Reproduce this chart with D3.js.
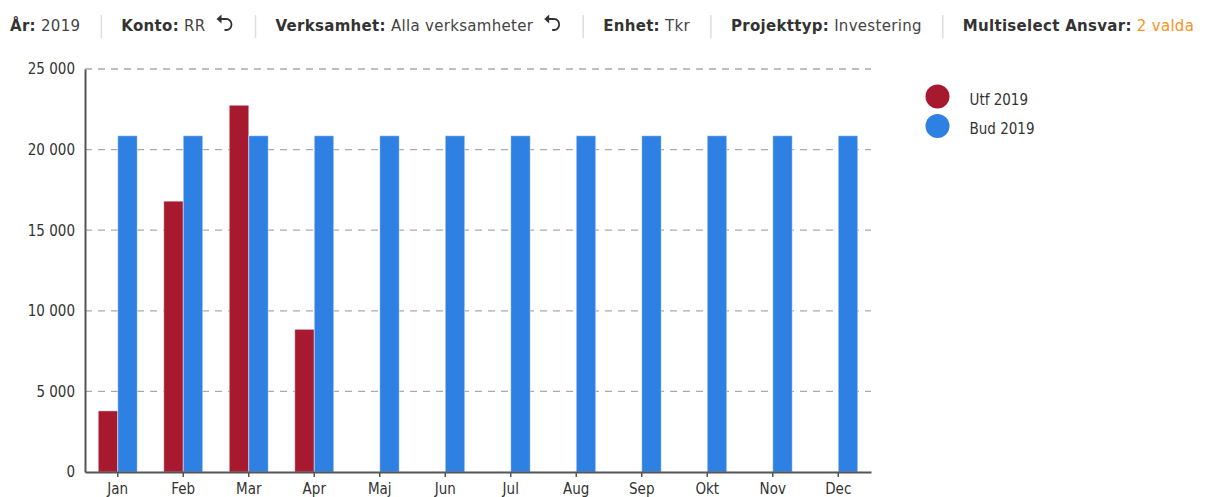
<!DOCTYPE html>
<html><head><meta charset="utf-8">
<script src="https://cdn.jsdelivr.net/npm/d3@7/dist/d3.min.js"></script>
<style>
html,body{margin:0;padding:0;background:#fff;}
svg{display:block;font-family:"DejaVu Sans",sans-serif;}
</style></head>
<body><svg id="c" width="1206" height="497"></svg>
<script>
const months = ["Jan","Feb","Mar","Apr","Maj","Jun","Jul","Aug","Sep","Okt","Nov","Dec"];
const utf2019 = [3790, 16800, 22750, 8850, null, null, null, null, null, null, null, null];
const bud2019 = [20860, 20860, 20860, 20860, 20860, 20860, 20860, 20860, 20860, 20860, 20860, 20860];
const seriesNames = ["Utf 2019", "Bud 2019"];
const seriesColors = ["#A6192E", "#2F80E3"];
const yTicks = [0, 5000, 10000, 15000, 20000, 25000];
const headerItems = [
  {label:"År:", value:"2019", undo:false},
  {label:"Konto:", value:"RR", undo:true},
  {label:"Verksamhet:", value:"Alla verksamheter", undo:true},
  {label:"Enhet:", value:"Tkr", undo:false},
  {label:"Projekttyp:", value:"Investering", undo:false},
  {label:"Multiselect Ansvar:", value:"2 valda", undo:false, orange:true}
];

const svg = d3.select("#c");
const fontFam = "'DejaVu Sans Condensed','DejaVu Sans',sans-serif";
const headFont = "'DejaVu Sans',sans-serif";

// Header
let hx = 10;
const hy = 31;
headerItems.forEach((it, i) => {
  const t = svg.append("text").attr("x", hx).attr("y", hy)
    .attr("font-family", headFont).attr("font-size", 15).attr("fill", "#333")
    .attr("letter-spacing", 0.3);
  t.append("tspan").attr("font-weight", "bold").text(it.label);
  t.append("tspan").attr("fill", it.orange ? "#F7941D" : "#444").text(" " + it.value);
  let w = t.node().getComputedTextLength();
  let end = hx + w;
  if (it.undo) {
    const ux = end + 12;
    svg.append("path")
      .attr("d", `M${ux+2},${hy-12} L${ux+9},${hy-12} A5,5.5 0 0 1 ${ux+9},${hy-1} L${ux+7},${hy-1}`)
      .attr("fill", "none").attr("stroke", "#333").attr("stroke-width", 1.8);
    svg.append("path")
      .attr("d", `M${ux-1},${hy-12} L${ux+4},${hy-16.5} L${ux+4},${hy-7.5} Z`)
      .attr("fill", "#333");
    end = ux + 17;
  }
  if (i < headerItems.length - 1) {
    const sx = end + 21;
    svg.append("line").attr("x1", sx).attr("x2", sx).attr("y1", 15).attr("y2", 38)
      .attr("stroke", "#ddd").attr("stroke-width", 1.5);
    hx = sx + 20;
  }
});

// Chart
const pLeft = 85, pRight = 871, pTop = 69, pBottom = 472;
const x = d3.scaleBand().domain(months).range([pLeft, pRight]).paddingInner(0.405).paddingOuter(0.2025);
const xs = d3.scaleBand().domain(seriesNames).range([0, x.bandwidth()]).padding(0);
const y = d3.scaleLinear().domain([0, 25000]).range([pBottom, pTop]);

// grid
svg.append("g").selectAll("line").data(yTicks.filter(d => d > 0)).join("line")
  .attr("x1", pLeft).attr("x2", pRight).attr("y1", d => y(d)).attr("y2", d => y(d))
  .attr("stroke", "#aaa").attr("stroke-width", 1.3).attr("stroke-dasharray", "7,6");

// bars
const data = [utf2019, bud2019];
data.forEach((vals, si) => {
  svg.append("g").selectAll("rect").data(months.map((m, i) => ({m, v: vals[i]})).filter(d => d.v != null))
    .join("rect")
    .attr("x", d => x(d.m) + xs(seriesNames[si]))
    .attr("width", xs.bandwidth())
    .attr("y", d => y(d.v))
    .attr("height", d => y(0) - y(d.v))
    .attr("fill", seriesColors[si])
    .attr("stroke", "rgba(255,255,255,0.45)").attr("stroke-width", 1);
});

// y axis
const yAxis = svg.append("g").attr("transform", `translate(${pLeft},0)`)
  .call(d3.axisLeft(y).tickValues(yTicks).tickSize(0).tickPadding(10)
    .tickFormat(d => d3.format(",")(d).replace(/,/g, " ")));
yAxis.select(".domain").attr("stroke", "#555").attr("stroke-width", 2);
yAxis.selectAll("text").attr("font-family", fontFam).attr("font-size", 15).attr("fill", "#333");

// x axis
const xAxis = svg.append("g").attr("transform", `translate(0,${pBottom})`)
  .call(d3.axisBottom(x).tickSize(5).tickSizeOuter(0).tickPadding(6));
xAxis.select(".domain").attr("stroke", "#555").attr("stroke-width", 2);
xAxis.selectAll(".tick line").attr("stroke", "#555").attr("stroke-width", 1.5);
xAxis.selectAll("text").attr("font-family", fontFam).attr("font-size", 15).attr("fill", "#333");

// legend
const lg = svg.append("g").selectAll("g").data(seriesNames).join("g")
  .attr("transform", (d, i) => `translate(937.5,${96.5 + i * 29.5})`);
lg.append("circle").attr("r", 12).attr("fill", (d, i) => seriesColors[i]);
lg.append("text").attr("x", 32).attr("y", 3).attr("dy", "0.35em").text(d => d)
  .attr("font-family", fontFam).attr("font-size", 15).attr("fill", "#333");
</script></body></html>
